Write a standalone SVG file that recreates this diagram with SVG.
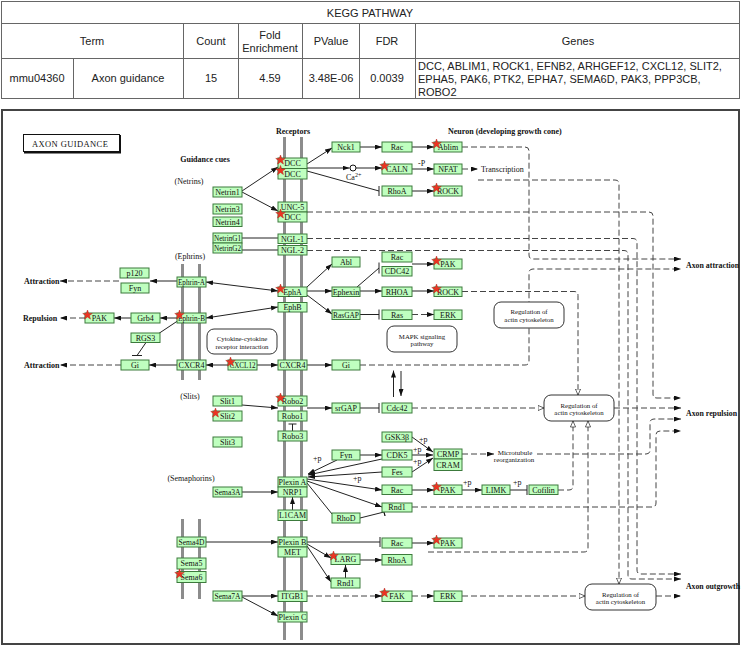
<svg xmlns="http://www.w3.org/2000/svg" width="741" height="646" viewBox="0 0 741 646">
<style>
.tb text{font-family:"Liberation Sans",Arial,sans-serif;font-size:11px;fill:#222;text-anchor:middle}
.tl{stroke:#666;stroke-width:1;fill:none}
.b rect{fill:#bfffbf;stroke:#3c7a3c;stroke-width:1}
.b text{font-family:"Liberation Serif","Times New Roman",serif;font-size:8px;fill:#111;text-anchor:middle}
.r text{font-family:"Liberation Serif","Times New Roman",serif;font-size:6.8px;fill:#111;text-anchor:middle}
.r rect{fill:#fff;stroke:#333;stroke-width:1}
.lb{font-family:"Liberation Serif","Times New Roman",serif;font-size:8px;font-weight:bold;fill:#111}
.sm{font-family:"Liberation Serif","Times New Roman",serif;font-size:8px;fill:#111}
.s{fill:none;stroke:#222;stroke-width:1}
.d{fill:none;stroke:#444;stroke-width:1;stroke-dasharray:6 3}
.bar{fill:#8c8c8c}
</style>
<defs>
<marker id="ar" viewBox="0 0 7 5" refX="7" refY="2.5" markerWidth="7" markerHeight="5" markerUnits="userSpaceOnUse" orient="auto-start-reverse"><path d="M0,0L7,2.5L0,5z" fill="#111"/></marker>
<marker id="op" viewBox="0 0 8 7" refX="7.5" refY="3.5" markerWidth="7" markerHeight="6" markerUnits="userSpaceOnUse" orient="auto"><path d="M0.5,0.5L7.5,3.5L0.5,6.5z" fill="#fff" stroke="#222" stroke-width="0.8"/></marker>
<marker id="tb" viewBox="0 0 2 10" refX="1" refY="5" markerWidth="2" markerHeight="9" markerUnits="userSpaceOnUse" orient="auto"><path d="M1,0V10" stroke="#111" stroke-width="1.3"/></marker>
<polygon id="star" points="0,-5 1.18,-1.62 4.76,-1.55 1.9,0.62 2.94,4.05 0,2 -2.94,4.05 -1.9,0.62 -4.76,-1.55 -1.18,-1.62" fill="#ee3322" stroke="#b3241b" stroke-width="0.5"/>
</defs>
<rect width="741" height="646" fill="#fff"/>

<!-- Table -->
<g id="table" class="tb">
<rect x="1.5" y="1.5" width="738" height="97" class="tl"/>
<path class="tl" d="M1.5,23.5H739.5M1.5,58.5H739.5M183.5,23.5V98.5M238.5,23.5V98.5M302.5,23.5V98.5M359.5,23.5V98.5M415.5,23.5V98.5M73.5,58.5V98.5"/>
<text x="370" y="17">KEGG PATHWAY</text>
<text x="92" y="45">Term</text>
<text x="211" y="45">Count</text>
<text x="270" y="39">Fold</text>
<text x="270" y="52">Enrichment</text>
<text x="331" y="45">PValue</text>
<text x="387" y="45">FDR</text>
<text x="578" y="45">Genes</text>
<text x="37" y="82">mmu04360</text>
<text x="128" y="82">Axon guidance</text>
<text x="211" y="82">15</text>
<text x="270" y="82">4.59</text>
<text x="331" y="82">3.48E-06</text>
<text x="387" y="82">0.0039</text>
<text x="418" y="70" style="text-anchor:start">DCC, ABLIM1, ROCK1, EFNB2, ARHGEF12, CXCL12, SLIT2,</text>
<text x="418" y="83" style="text-anchor:start">EPHA5, PAK6, PTK2, EPHA7, SEMA6D, PAK3, PPP3CB,</text>
<text x="418" y="96" style="text-anchor:start">ROBO2</text>
</g>

<!-- Frame -->
<rect x="2" y="110" width="737" height="534" fill="#fff" stroke="#444" stroke-width="2"/>
<g id="title">
<rect x="23.5" y="134.5" width="96" height="17" fill="#fff" stroke="#111" stroke-width="1"/>
<path d="M120,135V152.5H24" fill="none" stroke="#111" stroke-width="2"/>
<text x="32" y="147" class="sm" style="font-size:8.5px;letter-spacing:0.4px">AXON  GUIDANCE</text>
</g>

<!-- Membrane bars -->
<g id="bars">
<rect class="bar" x="283" y="137" width="3" height="503"/>
<rect class="bar" x="300" y="137" width="3" height="503"/>
<rect class="bar" x="181" y="264" width="3" height="116"/>
<rect class="bar" x="198" y="264" width="3" height="116"/>
<rect class="bar" x="181" y="519" width="3" height="80"/>
<rect class="bar" x="198" y="519" width="3" height="80"/>
</g>

<!-- Labels -->
<g id="labels">
<text class="lb" x="293" y="134" text-anchor="middle">Receptors</text>
<text class="lb" x="448" y="134">Neuron (developing growth cone)</text>
<text class="lb" x="205" y="162" text-anchor="middle">Guidance cues</text>
<text class="sm" x="189" y="184" text-anchor="middle">(Netrins)</text>
<text class="sm" x="190" y="259" text-anchor="middle">(Ephrins)</text>
<text class="sm" x="190" y="399" text-anchor="middle">(Slits)</text>
<text class="sm" x="191" y="481" text-anchor="middle">(Semaphorins)</text>
<text class="lb" x="24" y="284">Attraction</text>
<text class="lb" x="23" y="321">Repulsion</text>
<text class="lb" x="24" y="368">Attraction</text>
<text class="lb" x="686" y="268" textLength="53" lengthAdjust="spacingAndGlyphs">Axon attraction</text>
<text class="lb" x="686" y="416" textLength="51" lengthAdjust="spacingAndGlyphs">Axon repulsion</text>
<text class="lb" x="686" y="589" textLength="54" lengthAdjust="spacingAndGlyphs">Axon outgrowth</text>
<text class="sm" x="481" y="172">Transcription</text>
<text class="sm" x="515" y="455" text-anchor="middle" style="font-size:7px">Microtubule</text>
<text class="sm" x="514" y="462" text-anchor="middle" style="font-size:7px">reorganization</text>
<text class="sm" x="346" y="180">Ca<tspan dy="-3" font-size="6">2+</tspan></text>
<text class="sm" x="418" y="166" font-size="7">-P</text>
<text class="sm" x="419" y="442">+p</text>
<text class="sm" x="413" y="452">+p</text>
<text class="sm" x="413" y="464">+p</text>
<text class="sm" x="463" y="485">+p</text>
<text class="sm" x="513" y="485">+p</text>
<text class="sm" x="313" y="461">+p</text>
<text class="sm" x="353" y="481">+p</text>
</g>

<!-- Connectors -->
<g id="connectors">
<path class="s" marker-end="url(#ar)" d="M242,191 L278,167"/>
<path class="s" marker-end="url(#ar)" d="M242,192 L278,211"/>
<path class="s" d="M242,238 H278"/>
<path class="s" d="M242,250 H278"/>
<path class="s" marker-end="url(#ar)" d="M307,164 L332,148"/>
<path class="s" marker-end="url(#ar)" d="M307,168 H349.5"/>
<circle cx="353" cy="168" r="3" fill="#fff" stroke="#111"/>
<path class="s" marker-end="url(#ar)" d="M356,168 H382"/>
<path class="s" d="M307,171 L379,191 M379,186 V196"/>
<path class="s" marker-end="url(#ar)" d="M360,147 H382"/>
<path class="s" marker-end="url(#ar)" d="M412,147 H434"/>
<path class="s" marker-end="url(#ar)" d="M412,169 H434"/>
<path class="d" marker-end="url(#ar)" d="M462,169 H478"/>
<path class="s" marker-end="url(#ar)" d="M412,191 H434"/>

<path class="s" marker-end="url(#ar)" d="M177,281 H150"/>
<path class="s" marker-start="url(#ar)" marker-end="url(#ar)" d="M206,282 L278,291"/>
<path class="s" marker-start="url(#ar)" marker-end="url(#ar)" d="M206,318 L278,307"/>
<path class="s" marker-end="url(#ar)" d="M177,318 H160"/>
<path class="s" marker-end="url(#ar)" d="M131,318 H114"/>
<path class="s" d="M179,320 L158,334"/>
<path class="s" d="M146,342.5 L137,355.5 M132,355.5 H142"/>
<path class="s" marker-end="url(#ar)" d="M177,365 H149"/>
<path class="s" marker-end="url(#ar)" d="M228,365 H206"/>
<path class="s" marker-end="url(#ar)" d="M257,365 H278"/>
<path class="s" marker-end="url(#ar)" d="M307,365 H332"/>
<path class="s" marker-end="url(#ar)" d="M307,287 L332,264"/>
<path class="s" marker-end="url(#ar)" d="M307,291 H332"/>
<path class="s" marker-end="url(#ar)" d="M307,295 L332,314"/>
<path class="s" d="M357,287 L379,268 M379,262.5 V273.5"/>
<path class="s" marker-end="url(#ar)" d="M360,291 H382"/>
<path class="s" marker-end="url(#ar)" d="M412,291 H434"/>
<path class="s" d="M360,314.5 H379 M379,309.5 V319.5"/>
<path class="d" marker-end="url(#ar)" d="M412,314.5 H434"/>
<path class="s" marker-end="url(#ar)" d="M412,264 H434"/>

<path class="s" marker-end="url(#ar)" d="M242,405 L278,408"/>
<path class="s" marker-end="url(#ar)" d="M307,408 H332"/>
<path class="s" d="M360,408 H379 M379,403 V413"/>
<path class="s" d="M292.5,431 V424 M288.5,424 H296.5"/>
<path class="s" marker-end="url(#ar)" d="M393.5,397 V370.5"/>
<path class="s" marker-end="url(#ar)" d="M401,371 V396"/>
<path class="d" marker-end="url(#op)" d="M412,408 H544"/>

<path class="s" marker-end="url(#ar)" d="M412,437 L433,452"/>
<path class="s" marker-end="url(#ar)" d="M412,455 H433"/>
<path class="s" marker-end="url(#ar)" d="M412,472 L433,458"/>
<path class="s" marker-end="url(#ar)" d="M360,455 H382"/>
<path class="s" marker-end="url(#ar)" d="M337,460 L308,474"/>
<path class="s" marker-end="url(#ar)" d="M382,459 L308,475"/>
<path class="s" marker-end="url(#ar)" d="M382,472 L308,477"/>
<path class="s" marker-end="url(#ar)" d="M307,479 L382,490"/>
<path class="s" marker-end="url(#ar)" d="M307,481 L382,507"/>
<path class="s" d="M307,483 L332,514"/>
<path class="s" marker-end="url(#tb)" d="M360,518 L384,512"/>
<path class="s" marker-end="url(#ar)" d="M412,490 H434"/>
<path class="s" marker-end="url(#ar)" d="M462,490 H482"/>
<path class="s" d="M510,490 H527 M527,485 V495"/>
<path class="s" marker-end="url(#ar)" d="M292.5,510 V497"/>
<path class="s" marker-end="url(#ar)" d="M242,492 H278"/>
<path class="s" marker-end="url(#ar)" d="M206,542 H278"/>
<path class="s" d="M307,542 H380 M380,537 V547"/>
<path class="s" marker-end="url(#ar)" d="M412,543 H434"/>
<path class="s" marker-end="url(#ar)" d="M307,544 L331,558"/>
<path class="s" marker-end="url(#ar)" d="M307,546 L331,582"/>
<path class="s" marker-end="url(#ar)" d="M360,560 H382"/>
<path class="s" marker-end="url(#ar)" d="M345.5,578 V565"/>
<path class="s" marker-end="url(#ar)" d="M242,596 H278"/>
<path class="s" marker-end="url(#ar)" d="M242,597 L278,616"/>
<path class="d" marker-end="url(#ar)" d="M307,596 H382"/>
<path class="d" marker-end="url(#ar)" d="M412,596 H434"/>
<path class="d" marker-end="url(#op)" d="M462,596 H585"/>
<path class="d" marker-end="url(#ar)" d="M462,454 H494"/>

<path class="d" marker-end="url(#ar)" d="M119,281 H60"/>
<path class="d" marker-end="url(#ar)" d="M85,318 H60"/>
<path class="d" marker-end="url(#ar)" d="M121,365 H60"/>

<path class="d" marker-end="url(#ar)" d="M462,147 H525 Q529,147 529,151 V255 Q529,259 533,259 H681"/>
<path class="d" marker-end="url(#op)" d="M478,180 H615 Q619,180 619,184 V584"/>
<path class="d" marker-end="url(#ar)" d="M307,212 H649 Q653,212 653,216 V394 Q653,398 657,398 H681"/>
<path class="d" marker-end="url(#ar)" d="M307,238.5 H633 Q637,238.5 637,242.5 V570 Q637,574 641,574 H681"/>
<path class="d" marker-end="url(#ar)" d="M307,250.5 H624 Q628,250.5 628,254.5 V575 Q628,579 632,579 H681"/>
<path class="d" marker-end="url(#ar)" d="M360,365 H525 Q529,365 529,361 V273 Q529,269 533,269 H681"/>
<path class="d" marker-end="url(#op)" d="M462,291.5 H574 Q578,291.5 578,295.5 V395"/>
<path class="d" marker-end="url(#ar)" d="M614,408 H681"/>
<path class="d" marker-end="url(#ar)" d="M537,454 H646 Q650,454 650,450 V423 Q650,419 654,419 H681"/>
<path class="d" marker-end="url(#ar)" d="M412,507 H652 Q656,507 656,503 V435 Q656,431 660,431 H681"/>
<path class="d" marker-end="url(#op)" d="M558,490 H569 Q573,490 573,486 V421"/>
<path class="d" marker-end="url(#op)" d="M428,552 H584 Q588,552 588,548 V421"/>
<path class="d" marker-end="url(#ar)" d="M656,596 H681"/>
</g>

<!-- Rounded map boxes -->
<g id="cytokine" class="r"><rect x="207" y="329" width="70" height="25" rx="7"/><text x="242" y="341">Cytokine-cytokine</text><text x="242" y="348.5">receptor interaction</text></g>
<g id="mapk" class="r"><rect x="387" y="326" width="70" height="26" rx="7"/><text x="422" y="338.5">MAPK signaling</text><text x="422" y="346">pathway</text></g>
<g id="reg1" class="r"><rect x="494" y="302" width="70" height="26" rx="7"/><text x="529" y="314">Regulation of</text><text x="529" y="321.5">actin cytoskeleton</text></g>
<g id="reg2" class="r"><rect x="544" y="395" width="70" height="26" rx="7"/><text x="579" y="407.5">Regulation of</text><text x="579" y="415">actin cytoskeleton</text></g>
<g id="reg3" class="r"><rect x="585" y="584" width="71" height="26" rx="7"/><text x="620.5" y="596.5">Regulation of</text><text x="620.5" y="604">actin cytoskeleton</text></g>

<!-- Gene nodes -->
<g id="netrin1" class="b"><rect x="213" y="187" width="29" height="10"/><text x="227.5" y="194.8">Netrin1</text></g>
<g id="netrin3" class="b"><rect x="213" y="204" width="29" height="10"/><text x="227.5" y="211.8">Netrin3</text></g>
<g id="netrin4" class="b"><rect x="213" y="217" width="29" height="9.5"/><text x="227.5" y="224.5">Netrin4</text></g>
<g id="netring1" class="b"><rect x="213" y="233" width="29" height="10"/><text x="227.5" y="240.8" textLength="27" lengthAdjust="spacingAndGlyphs">NetrinG1</text></g>
<g id="netring2" class="b"><rect x="213" y="243" width="29" height="10"/><text x="227.5" y="250.8" textLength="27" lengthAdjust="spacingAndGlyphs">NetrinG2</text></g>
<g id="slit1" class="b"><rect x="213" y="396" width="29" height="10"/><text x="227.5" y="403.8">Slit1</text></g>
<g id="slit2" class="b"><rect x="213" y="411" width="29" height="10"/><text x="227.5" y="418.8">Slit2</text><use href="#star" x="215.5" y="413"/></g>
<g id="slit3" class="b"><rect x="213" y="437" width="29" height="10"/><text x="227.5" y="444.8">Slit3</text></g>
<g id="sema3a" class="b"><rect x="213" y="487" width="29" height="10"/><text x="227.5" y="494.8" textLength="26" lengthAdjust="spacingAndGlyphs">Sema3A</text></g>
<g id="sema7a" class="b"><rect x="213" y="591" width="29" height="10"/><text x="227.5" y="598.8" textLength="26" lengthAdjust="spacingAndGlyphs">Sema7A</text></g>

<g id="ephrina" class="b"><rect x="177" y="277" width="29" height="10"/><text x="191.5" y="284.8" textLength="27" lengthAdjust="spacingAndGlyphs">Ephrin-A</text></g>
<g id="ephrinb" class="b"><rect x="177" y="313" width="29" height="10"/><text x="191.5" y="320.8" textLength="27" lengthAdjust="spacingAndGlyphs">Ephrin-B</text><use href="#star" x="179.5" y="315"/></g>
<g id="cxcr4a" class="b"><rect x="177" y="360" width="29" height="10"/><text x="191.5" y="367.8">CXCR4</text></g>
<g id="sema4d" class="b"><rect x="177" y="537" width="29" height="10"/><text x="191.5" y="544.8" textLength="26" lengthAdjust="spacingAndGlyphs">Sema4D</text></g>
<g id="sema5" class="b"><rect x="177" y="558" width="29" height="11"/><text x="191.5" y="566.3">Sema5</text></g>
<g id="sema6" class="b"><rect x="177" y="571.5" width="29" height="11"/><text x="191.5" y="579.8">Sema6</text><use href="#star" x="179.5" y="574"/></g>

<g id="dcc1" class="b"><rect x="278" y="158" width="29" height="10.5"/><text x="292.5" y="166">DCC</text><use href="#star" x="280.5" y="160"/></g>
<g id="dcc2" class="b"><rect x="278" y="168.5" width="29" height="10.5"/><text x="292.5" y="176.5">DCC</text><use href="#star" x="280.5" y="170.5"/></g>
<g id="unc5" class="b"><rect x="278" y="202" width="29" height="10"/><text x="292.5" y="209.8">UNC-5</text></g>
<g id="dcc3" class="b"><rect x="278" y="212" width="29" height="10"/><text x="292.5" y="219.8">DCC</text><use href="#star" x="280.5" y="214"/></g>
<g id="ngl1" class="b"><rect x="278" y="234" width="29" height="9.5"/><text x="292.5" y="241.5">NGL-1</text></g>
<g id="ngl2" class="b"><rect x="278" y="245.5" width="29" height="9.5"/><text x="292.5" y="253">NGL-2</text></g>
<g id="epha" class="b"><rect x="278" y="287" width="29" height="9.5"/><text x="292.5" y="294.5">EphA</text><use href="#star" x="280.5" y="289"/></g>
<g id="ephb" class="b"><rect x="278" y="302.5" width="29" height="9.5"/><text x="292.5" y="310">EphB</text></g>
<g id="cxcr4b" class="b"><rect x="278" y="360" width="29" height="10"/><text x="292.5" y="367.8">CXCR4</text></g>
<g id="robo2" class="b"><rect x="278" y="396" width="29" height="10"/><text x="292.5" y="403.8">Robo2</text><use href="#star" x="280.5" y="398"/></g>
<g id="robo1" class="b"><rect x="278" y="411" width="29" height="10"/><text x="292.5" y="418.8">Robo1</text></g>
<g id="robo3" class="b"><rect x="278" y="431" width="29" height="10"/><text x="292.5" y="438.8">Robo3</text></g>
<g id="plexina" class="b"><rect x="278" y="477" width="29" height="10"/><text x="292.5" y="484.8">Plexin A</text></g>
<g id="nrp1" class="b"><rect x="278" y="487" width="29" height="10"/><text x="292.5" y="494.8">NRP1</text></g>
<g id="l1cam" class="b"><rect x="278" y="510" width="29" height="10.5"/><text x="292.5" y="518">L1CAM</text></g>
<g id="plexinb" class="b"><rect x="278" y="537" width="29" height="10"/><text x="292.5" y="544.8">Plexin B</text></g>
<g id="met" class="b"><rect x="278" y="547" width="29" height="10"/><text x="292.5" y="554.8">MET</text></g>
<g id="itgb1" class="b"><rect x="278" y="591" width="29" height="10.5"/><text x="292.5" y="599">ITGB1</text></g>
<g id="plexinc" class="b"><rect x="278" y="612" width="29" height="10"/><text x="292.5" y="619.8">Plexin C</text></g>

<g id="nck1" class="b"><rect x="332" y="142" width="28" height="10"/><text x="346" y="149.8">Nck1</text></g>
<g id="abl" class="b"><rect x="332" y="257" width="28" height="10"/><text x="346" y="264.8">Abl</text></g>
<g id="ephexin" class="b"><rect x="332" y="287" width="28" height="9.5"/><text x="346" y="294.5">Ephexin</text></g>
<g id="rasgap" class="b"><rect x="332" y="310" width="28" height="9.5"/><text x="346" y="317.5" textLength="26" lengthAdjust="spacingAndGlyphs">RasGAP</text></g>
<g id="gib" class="b"><rect x="332" y="360" width="28" height="10"/><text x="346" y="367.8">Gi</text></g>
<g id="srgap" class="b"><rect x="332" y="403" width="28" height="10"/><text x="346" y="410.8">srGAP</text></g>
<g id="fyn" class="b"><rect x="332" y="450" width="28" height="10"/><text x="346" y="457.8">Fyn</text></g>
<g id="rhod" class="b"><rect x="332" y="513" width="28" height="10"/><text x="346" y="520.8">RhoD</text></g>
<g id="larg" class="b"><rect x="331" y="554" width="29" height="10.5"/><text x="345.5" y="562">LARG</text><use href="#star" x="333.5" y="556"/></g>
<g id="rnd1b" class="b"><rect x="331" y="578" width="29" height="10"/><text x="345.5" y="585.8">Rnd1</text></g>

<g id="rac1" class="b"><rect x="382" y="142" width="30" height="10"/><text x="397" y="149.8">Rac</text></g>
<g id="caln" class="b"><rect x="382" y="164" width="30" height="10"/><text x="397" y="171.8">CALN</text><use href="#star" x="384.5" y="166"/></g>
<g id="rhoa1" class="b"><rect x="382" y="186" width="30" height="10"/><text x="397" y="193.8">RhoA</text></g>
<g id="rac2" class="b"><rect x="382" y="252" width="30" height="10"/><text x="397" y="259.8">Rac</text></g>
<g id="cdc42a" class="b"><rect x="382" y="266.5" width="30" height="9.5"/><text x="397" y="274">CDC42</text></g>
<g id="rhoa2" class="b"><rect x="382" y="287" width="30" height="9.5"/><text x="397" y="294.5">RHOA</text></g>
<g id="ras" class="b"><rect x="382" y="310" width="30" height="9.5"/><text x="397" y="317.5">Ras</text></g>
<g id="cdc42b" class="b"><rect x="382" y="403" width="30" height="10"/><text x="397" y="410.8">Cdc42</text></g>
<g id="gsk3b" class="b"><rect x="382" y="432" width="30" height="10"/><text x="397" y="439.8">GSK3β</text></g>
<g id="cdk5" class="b"><rect x="382" y="450" width="30" height="10"/><text x="397" y="457.8">CDK5</text></g>
<g id="fes" class="b"><rect x="382" y="467" width="30" height="10"/><text x="397" y="474.8">Fes</text></g>
<g id="rac3" class="b"><rect x="382" y="485" width="30" height="9.5"/><text x="397" y="492.5">Rac</text></g>
<g id="rnd1a" class="b"><rect x="382" y="503" width="30" height="9"/><text x="397" y="510.3">Rnd1</text></g>
<g id="rac4" class="b"><rect x="382" y="538" width="30" height="10"/><text x="397" y="545.8">Rac</text></g>
<g id="rhoa3" class="b"><rect x="382" y="554.5" width="30" height="10.5"/><text x="397" y="562.5">RhoA</text></g>
<g id="fak" class="b"><rect x="382" y="591" width="30" height="10.5"/><text x="397" y="599">FAK</text><use href="#star" x="384.5" y="593"/></g>

<g id="ablim" class="b"><rect x="434" y="142" width="28" height="10"/><text x="448" y="149.8">Ablim</text><use href="#star" x="436.5" y="144"/></g>
<g id="nfat" class="b"><rect x="434" y="164" width="28" height="10"/><text x="448" y="171.8">NFAT</text></g>
<g id="rock1" class="b"><rect x="434" y="186" width="28" height="10"/><text x="448" y="193.8">ROCK</text><use href="#star" x="436.5" y="188"/></g>
<g id="pak1" class="b"><rect x="434" y="259" width="28" height="10"/><text x="448" y="266.8">PAK</text><use href="#star" x="436.5" y="261"/></g>
<g id="rock2" class="b"><rect x="434" y="287" width="28" height="9.5"/><text x="448" y="294.5">ROCK</text><use href="#star" x="436.5" y="289"/></g>
<g id="erk1" class="b"><rect x="434" y="310" width="28" height="9.5"/><text x="448" y="317.5">ERK</text></g>
<g id="crmp" class="b"><rect x="434" y="449" width="28" height="10"/><text x="448" y="456.8">CRMP</text></g>
<g id="cram" class="b"><rect x="434" y="459" width="28" height="11.5"/><text x="448" y="467.5">CRAM</text></g>
<g id="pak3" class="b"><rect x="434" y="485" width="28" height="9.5"/><text x="448" y="492.5">PAK</text><use href="#star" x="436.5" y="487"/></g>
<g id="pak4" class="b"><rect x="434" y="538" width="28" height="10"/><text x="448" y="545.8">PAK</text><use href="#star" x="436.5" y="540"/></g>
<g id="erk2" class="b"><rect x="434" y="591" width="28" height="10.5"/><text x="448" y="599">ERK</text></g>
<g id="limk" class="b"><rect x="482" y="485" width="28" height="9.5"/><text x="496" y="492.5">LIMK</text></g>
<g id="cofilin" class="b"><rect x="529" y="485" width="29" height="9.5"/><text x="543.5" y="492.5">Cofilin</text></g>

<g id="p120" class="b"><rect x="120" y="268" width="29" height="10"/><text x="134.5" y="275.8">p120</text></g>
<g id="fyn2" class="b"><rect x="121" y="283" width="28" height="10"/><text x="135" y="290.8">Fyn</text></g>
<g id="pak2" class="b"><rect x="85" y="313" width="29" height="10"/><text x="99.5" y="320.8">PAK</text><use href="#star" x="87.5" y="315"/></g>
<g id="grb4" class="b"><rect x="131" y="313" width="29" height="10"/><text x="145.5" y="320.8">Grb4</text></g>
<g id="rgs3" class="b"><rect x="131" y="333" width="29" height="9.5"/><text x="145.5" y="340.5">RGS3</text></g>
<g id="gia" class="b"><rect x="121" y="360" width="28" height="10"/><text x="135" y="367.8">Gi</text></g>
<g id="cxcl12" class="b"><rect x="228" y="360" width="29" height="10"/><text x="242.5" y="367.8" textLength="26" lengthAdjust="spacingAndGlyphs">CXCL12</text><use href="#star" x="230.5" y="362"/></g>
</svg>
